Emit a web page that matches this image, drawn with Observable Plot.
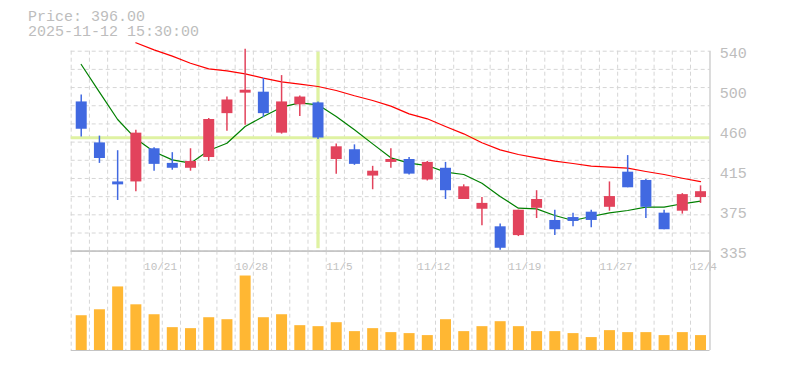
<!DOCTYPE html>
<html><head><meta charset="utf-8">
<script src="https://cdn.jsdelivr.net/npm/d3@7"></script>
<script src="https://cdn.jsdelivr.net/npm/@observablehq/plot@0.6"></script>
<style>
body{margin:0;background:#fff;}
#wrap{position:relative;width:785px;height:370px;overflow:hidden;font-family:"Liberation Mono",monospace;background:#fff;}
#hdr{position:absolute;left:28px;top:11px;color:#bdbdbd;font-size:15px;line-height:14.6px;white-space:pre;}
#price,#vol{position:absolute;left:0;}
#price{top:0px;} #vol{top:250px;}
</style></head>
<body>
<div id="wrap"><div id="price"></div><div id="vol"></div><div id="hdr">Price: 396.00
2025-11-12 15:30:00</div></div>
<script>
// ---- data ----
const dates = ["10/15","10/16","10/17","10/20","10/21","10/22","10/23","10/24","10/27","10/28","10/29","10/30","10/31","11/4","11/5","11/6","11/7","11/10","11/11","11/12","11/13","11/14","11/17","11/18","11/19","11/20","11/21","11/25","11/26","11/27","11/28","12/1","12/2","12/3","12/4"];
const open  = [488,446,406,406,440,425,420,431,476,497,498,456,485,487,429,439,412,426,429,408,420,388,378,360,351,379,366.5,369.5,375,380,416,407.5,374,376,390];
const high  = [495,453,438,459,441,436,440,471,493,542,512,515,494,488,445,444,422,440,431,427,426,403,390,363,377,397,377,374,377,406,433,408.5,377,394,402];
const low   = [452,425,387,396,417,418,417,427,458,464,472,455,473,449.5,414,423,398,420,413,407,388,388,361,336,350,368.5,351,360,359,376,400,368.5,357,373,384];
const close = [460,430,403,456,424,420,427,470,490,500,476,488,493,451,442,424,417,429,414,426,397,401,384,338,377,388,357,365.5,366.5,391,400,380,357,393,396];
const ma5   = [526.4,498,470,450.2,437,428.6,425.2,438.2,445.7,462.8,473.1,482.6,487.1,485,473.1,459.4,445,430.7,425.2,422.8,416,413.6,404.7,391.1,379.1,378.4,371.6,366.5,370.6,374.3,376.7,380.1,380.1,383.6,386.3];
const ma25  = [null,null,null,548.6,541.4,534.9,527.7,521.9,519.9,516.8,512.4,508.6,506.2,503.8,499.7,494.3,489.5,483.7,475.8,470.7,462.8,455.3,446.1,438.9,434.1,430.7,427.3,424.9,422.2,421.1,420.1,416.7,413.6,409.8,406.4];
const volume = [33,39,62,44,34,21,20,31,29,73,31,34,23,22,26,17,20,16,15,13,29,17,22,27,22,17,17,15,11,18,16,16,13,16,13]; // thousands
const xTickLabels = ["10/21","10/28","11/5","11/12","11/19","11/27","12/4"];
const yTickValues = [335,376,417,458,499,540];
const yTickLabels = ["335","375","415","460","500","540"];
const crossPrice = 451.2;
const crossDate = "11/4";

// ---- build ----
const candles = dates.map((d,i)=>({i, date:d, open:open[i], high:high[i], low:low[i], close:close[i]}));
const ma5Data = ma5.map((v,i)=>({i, v}));
const ma25Data = ma25.map((v,i)=>({i, v})).filter(d=>d.v!=null);
const volData = volume.map((v,i)=>({i, v}));
const UP="#e2435c", DOWN="#4169e1";
const xDomain=[-0.55, 34.52];
const W=785, ML=70.7, MR=75.5;
const vGrid = d3.range(dates.length).map(i=>i-0.55);
const hGrid = d3.range(12).map(k=>335 + k*205/11);
const grid = {stroke:"#d6d6d6", strokeDasharray:"4,3", strokeWidth:1};
const mono = "Liberation Mono, monospace";

const price = Plot.plot({
  width:W, height:270, marginLeft:ML, marginRight:MR, marginTop:50.7, marginBottom:19.3,
  style:{background:"transparent", fontFamily:mono, overflow:"visible"},
  x:{domain:xDomain, axis:null},
  y:{domain:[335,540], axis:null},
  marks:[
    Plot.ruleY(hGrid, grid),
    Plot.ruleX(vGrid, grid),
    Plot.ruleY([crossPrice], {stroke:"#dff2a2", strokeWidth:3}),
    Plot.ruleX([dates.indexOf(crossDate)], {stroke:"#dff2a2", strokeWidth:3.3, insetTop:1, insetBottom:2.5}),
    Plot.ruleY([335], {stroke:"#bdbdbd", strokeWidth:1.2}),
    Plot.ruleX([xDomain[1]], {stroke:"#c4c4c4", strokeWidth:1.2, insetBottom:-20}),
    Plot.line(ma25Data, {x:"i", y:"v", stroke:"#ff0000", strokeWidth:1.2}),
    Plot.line(ma5Data, {x:"i", y:"v", stroke:"#008000", strokeWidth:1.2}),
    Plot.ruleX(candles, {x:"i", y1:"low", y2:"high", stroke:d=>d.close>=d.open?UP:DOWN, strokeWidth:1.5}),
    Plot.ruleX(candles, {x:"i", y1:"open", y2:"close", stroke:d=>d.close>=d.open?UP:DOWN, strokeWidth:11}),
    Plot.text(yTickValues, {y:d=>d, text:(d,i)=>yTickLabels[i], frameAnchor:"right", textAnchor:"start", dx:9.8, dy:2, fill:"#bdbdbd", fontSize:15, fontFamily:mono})
  ]
});
document.getElementById("price").appendChild(price);

const vol = Plot.plot({
  width:W, height:120, marginLeft:ML, marginRight:MR, marginTop:0.7, marginBottom:20,
  style:{background:"transparent", fontFamily:mono, overflow:"visible"},
  x:{domain:xDomain, axis:null},
  y:{domain:[0,100], axis:null},
  marks:[
    Plot.ruleX(vGrid, grid),
    Plot.ruleX(volData, {x:"i", y1:0, y2:"v", stroke:"#ffb733", strokeWidth:11, insetBottom:2}),
    Plot.text(xTickLabels, {x:d=>dates.indexOf(d)-0.55, text:d=>d, frameAnchor:"top", textAnchor:"start", dy:11, fill:"#c2c2c2", fontSize:11, letterSpacing:-0.7, fontFamily:mono}),
    Plot.ruleY([0,100], {stroke:"#c4c4c4", strokeWidth:1.2}),
    Plot.ruleX([xDomain[1]], {stroke:"#c4c4c4", strokeWidth:1.2})
  ]
});
document.getElementById("vol").appendChild(vol);
</script>
</body></html>
